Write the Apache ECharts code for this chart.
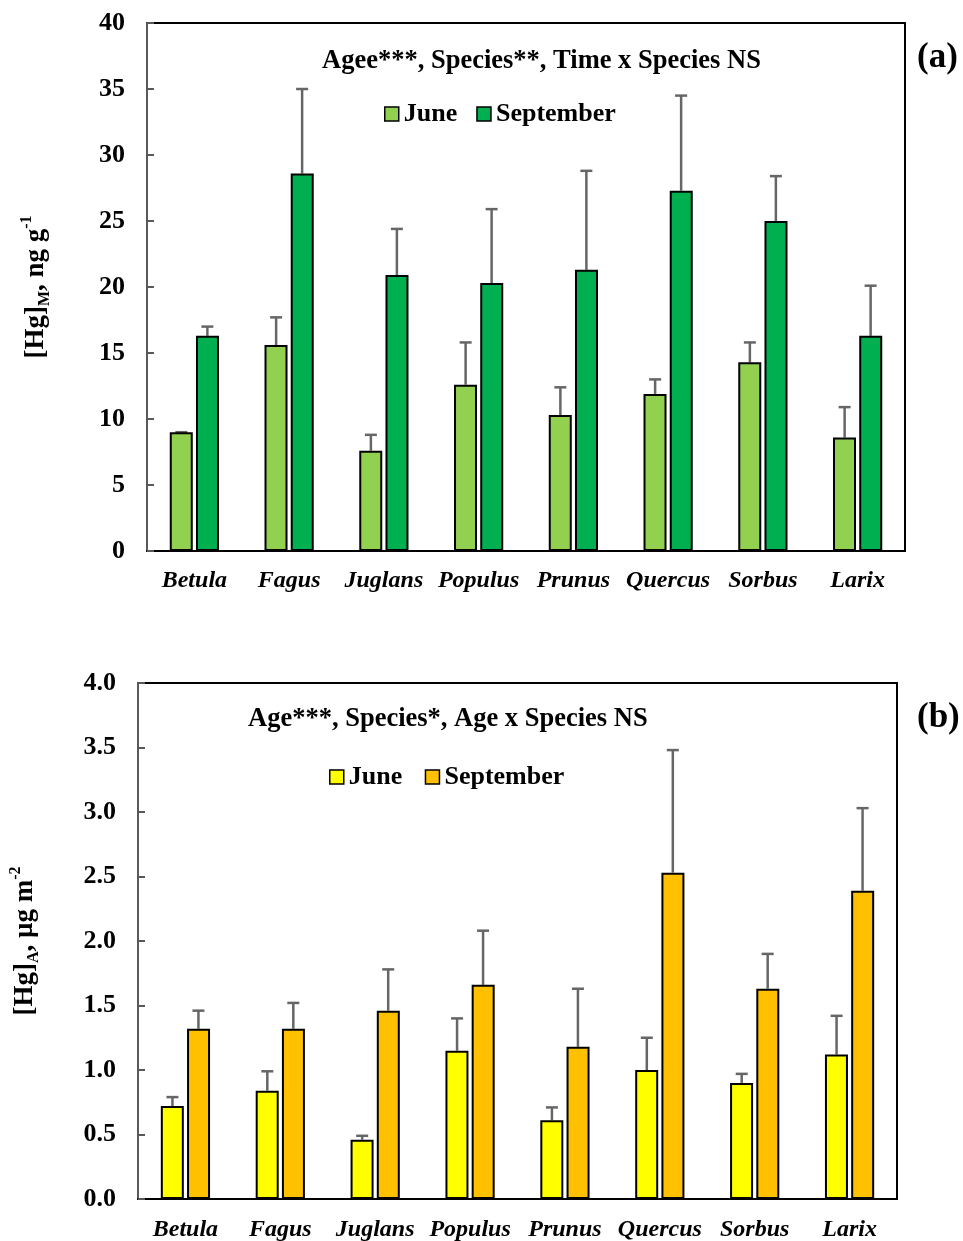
<!DOCTYPE html>
<html><head><meta charset="utf-8">
<script src="https://cdn.jsdelivr.net/npm/echarts@6/dist/echarts.min.js"></script>
<style>html,body{margin:0;padding:0;background:#fff}#c{width:963px;height:1241px}</style>
</head><body><div id="c"></div>
<script>
const categories = ['Betula','Fagus','Juglans','Populus','Prunus','Quercus','Sorbus','Larix'];
const yTicksA = [0,5,10,15,20,25,30,35,40];
const yTicksB = [0,0.5,1.0,1.5,2.0,2.5,3.0,3.5,4.0];
// panel (a): [Hg]M, ng g-1
const juneA = [9.0, 15.6, 7.6, 12.6, 10.3, 11.9, 14.3, 8.6];
const juneAErrTop = [9.0, 17.7, 8.8, 15.8, 12.4, 13.0, 15.8, 10.9];
const septA = [16.3, 28.6, 20.9, 20.3, 21.3, 27.3, 25.0, 16.3];
const septAErrTop = [17.0, 35.0, 24.4, 25.9, 28.8, 34.5, 28.4, 20.1];
// panel (b): [Hg]A, ug m-2
const juneB = [0.72, 0.84, 0.46, 1.15, 0.61, 1.00, 0.90, 1.12];
const juneBErrTop = [0.79, 0.99, 0.49, 1.40, 0.71, 1.25, 0.97, 1.42];
const septB = [1.32, 1.32, 1.46, 1.66, 1.18, 2.53, 1.63, 2.39];
const septBErrTop = [1.46, 1.52, 1.78, 2.08, 1.63, 3.48, 1.90, 3.03];

const FONT = '"Liberation Serif","Times New Roman",serif';
const chart = echarts.init(document.getElementById('c'), null, {renderer:'canvas'});

function errSeries(name, xi, yi, vals, tops, offset){
  return {
    name: name, type:'custom', xAxisIndex:xi, yAxisIndex:yi, silent:true, z:1,
    data: vals.map((v,i)=>[i, v, tops[i]]),
    renderItem: function(params, api){
      const base = api.coord([api.value(0), api.value(1)]);
      const top = api.coord([api.value(0), api.value(2)]);
      const x = base[0] + offset;
      const st = {stroke:'#666666', lineWidth:2.5};
      return {type:'group', children:[
        {type:'line', shape:{x1:x, y1:base[1], x2:x, y2:top[1]}, style:st},
        {type:'line', shape:{x1:x-6, y1:top[1], x2:x+6, y2:top[1]}, style:st}
      ]};
    }
  };
}

function barSeries(name, xi, yi, data, color){
  return {name:name, type:'bar', xAxisIndex:xi, yAxisIndex:yi, data:data,
    barWidth:23, barGap:'14%', z:2,
    itemStyle:{color:color, borderColor:'#000', borderWidth:2}};
}

const axisLabelStyle = {fontFamily:FONT, fontWeight:'bold', fontSize:26, color:'#000'};
const nameRich = {
  b:{fontFamily:FONT, fontWeight:'bold', fontSize:27, color:'#000', lineHeight:34, verticalAlign:'middle'},
  sub:{fontFamily:FONT, fontWeight:'bold', fontSize:16, color:'#000', lineHeight:34, verticalAlign:'bottom'},
  sup:{fontFamily:FONT, fontWeight:'bold', fontSize:16, color:'#000', lineHeight:34, verticalAlign:'top'}
};

const option = {
  backgroundColor:'#fff',
  animation:false,
  grid:[
    {left:147, right:58, top:23, height:528, show:true, borderColor:'#000', borderWidth:2, containLabel:false, outerBoundsMode:'none'},
    {left:138, right:66, top:683, height:516, show:true, borderColor:'#000', borderWidth:2, containLabel:false, outerBoundsMode:'none'}
  ],
  legend:[
    {data:['June','September'], icon:'rect', left:379, top:96, itemWidth:14, itemHeight:14, itemGap:19,
     itemStyle:{borderColor:'#000', borderWidth:1.5},
     textStyle:{fontFamily:FONT, fontWeight:'bold', fontSize:26, color:'#000'}},
    {data:['June ','September '], icon:'rect', left:324, top:759, itemWidth:14, itemHeight:14, itemGap:16,
     itemStyle:{borderColor:'#000', borderWidth:1.5},
     textStyle:{fontFamily:FONT, fontWeight:'bold', fontSize:26, color:'#000'}}
  ],
  xAxis:[
    {type:'category', gridIndex:0, data:categories,
     axisLine:{lineStyle:{color:'#000', width:2}}, axisTick:{show:false},
     axisLabel:Object.assign({}, axisLabelStyle, {fontStyle:'italic', fontSize:24, margin:18, interval:0})},
    {type:'category', gridIndex:1, data:categories,
     axisLine:{lineStyle:{color:'#000', width:2}}, axisTick:{show:false},
     axisLabel:Object.assign({}, axisLabelStyle, {fontStyle:'italic', fontSize:24, margin:19, interval:0})}
  ],
  yAxis:[
    {type:'value', gridIndex:0, min:yTicksA[0], max:yTicksA[yTicksA.length-1], interval:5,
     splitLine:{show:false},
     axisLine:{show:true, lineStyle:{color:'#595959', width:2}},
     axisTick:{show:true, inside:true, length:7, lineStyle:{color:'#595959', width:2}},
     axisLabel:Object.assign({}, axisLabelStyle, {margin:22}),
     name:'{b|[Hg]}{sub|M}{b|, ng g}{sup|-1}', nameLocation:'middle', nameRotate:90, nameGap:94,
     nameTextStyle:{rich:nameRich}},
    {type:'value', gridIndex:1, min:yTicksB[0], max:yTicksB[yTicksB.length-1], interval:0.5,
     splitLine:{show:false},
     axisLine:{show:true, lineStyle:{color:'#595959', width:2}},
     axisTick:{show:true, inside:true, length:7, lineStyle:{color:'#595959', width:2}},
     axisLabel:Object.assign({}, axisLabelStyle, {margin:22, formatter:v=>v.toFixed(1)}),
     name:'{b|[Hg]}{sub|A}{b|, \u00b5g m}{sup|-2}', nameLocation:'middle', nameRotate:90, nameGap:96,
     nameTextStyle:{rich:nameRich}}
  ],
  graphic:[
    {type:'text', left:322, top:48, style:{text:'Agee***, Species**, Time x Species NS', font:'bold 26.5px '+FONT, fill:'#000'}},
    {type:'text', left:248, top:706, style:{text:'Age***, Species*, Age x Species NS', font:'bold 26.5px '+FONT, fill:'#000'}},
    {type:'text', left:917, top:40, style:{text:'(a)', font:'bold 35px '+FONT, fill:'#000'}},
    {type:'text', left:917, top:700, style:{text:'(b)', font:'bold 35px '+FONT, fill:'#000'}}
  ],
  series:[
    barSeries('June',0,0,juneA,'#92D050'),
    barSeries('September',0,0,septA,'#00B050'),
    errSeries('errJA',0,0,juneA,juneAErrTop,-13),
    errSeries('errSA',0,0,septA,septAErrTop,13),
    barSeries('June ',1,1,juneB,'#FFFF00'),
    barSeries('September ',1,1,septB,'#FFC000'),
    errSeries('errJB',1,1,juneB,juneBErrTop,-13),
    errSeries('errSB',1,1,septB,septBErrTop,13)
  ]
};
chart.setOption(option);
</script></body></html>
